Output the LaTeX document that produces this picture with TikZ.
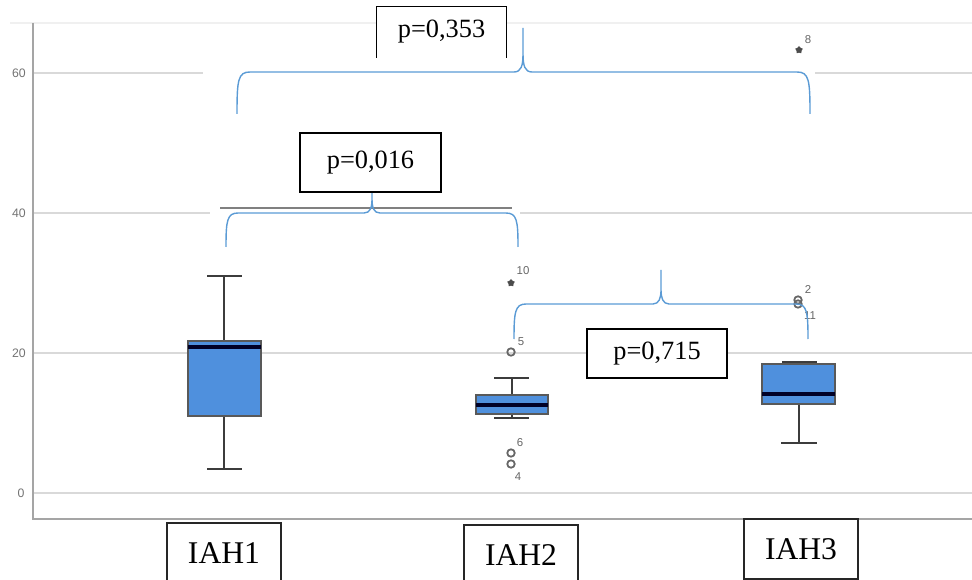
\documentclass[tikz,border=0pt]{standalone}
\usepackage{fontspec}
\setmainfont{Liberation Serif}
\newfontfamily\axisfont{Liberation Sans}
\usetikzlibrary{shapes.geometric}
\definecolor{boxblue}{RGB}{79,144,221}
\definecolor{braceblue}{RGB}{91,155,213}
\definecolor{gridgray}{RGB}{217,217,217}
\definecolor{axisgray}{RGB}{165,165,165}
\definecolor{whiskgray}{RGB}{60,60,60}

\begin{document}
\begin{tikzpicture}
  [x=0.02cm,y=-0.02cm,
   gridL/.style={gridgray,line width=1.1pt},
   tickT/.style={font=\axisfont\fontsize{7}{8}\selectfont,text=black!55},
   obsT/.style={font=\axisfont\fontsize{6.5}{7}\selectfont,text=black!60},
   boxB/.style={fill=boxblue,draw=black!65,line width=1pt},
   medL/.style={black!85!blue,line width=1.8pt},
   whiskL/.style={whiskgray,line width=1.4pt},
   outC/.style={circle,draw=black!60,line width=1pt,inner sep=0pt,minimum size=0.15cm},
   extS/.style={star,star points=5,fill=black!70,inner sep=0pt,minimum size=0.16cm},
   braceL/.style={braceblue,line width=0.8pt},
   pvalN/.style={draw=black,line width=0.8pt,fill=white,font=\fontsize{15}{18}\selectfont},
   groupN/.style={draw=black!85,line width=0.8pt,fill=white,minimum width=2.28cm,minimum height=1.2cm,font=\fontsize{18}{21}\selectfont}]

  \clip (0,0) rectangle (972,580);

  % frame and grid
  \draw[black!6,line width=0.6pt] (10,23) -- (972,23);
  \draw[gridL] (33,73) -- (203,73);
  \draw[gridL] (815,73) -- (972,73);
  \draw[gridL] (33,213) -- (210,213);
  \draw[gridL] (520,213) -- (972,213);
  \draw[gridL] (33,353) -- (972,353);
  \draw[gridL] (33,493) -- (972,493);
  \draw[axisgray,line width=1.6pt] (33,23) -- (33,519) -- (972,519);
  \draw[black!50,line width=0.6pt] (220,208) -- (512,208);

  \node[tickT] (t60) at (19,73)  {60};
  \node[tickT] (t40) at (19,213) {40};
  \node[tickT] (t20) at (19,353) {20};
  \node[tickT] (t0)  at (21,493) {0};

  % IAH1
  \draw[whiskL] (224,276) -- (224,469);
  \draw[whiskL] (207,276) -- (242,276);
  \draw[whiskL] (207,469) -- (242,469);
  \draw[boxB] (188,341) rectangle (261,416);
  \draw[medL] (188,347) -- (261,347);

  % IAH2
  \draw[whiskL] (512,378) -- (512,418);
  \draw[whiskL] (494,378) -- (529,378);
  \draw[whiskL] (494,418) -- (529,418);
  \draw[boxB] (476,395) rectangle (548,414);
  \draw[medL] (476,405) -- (548,405);
  \node[extS] (x10) at (511,283) {};
  \node[obsT] (l10) at (523,271) {10};
  \node[outC] (o5) at (511,352) {};
  \node[obsT] (l5) at (521,342) {5};
  \node[outC] (o6) at (511,453) {};
  \node[obsT] (l6) at (520,443) {6};
  \node[outC] (o4) at (511,464) {};
  \node[obsT] (l4) at (518,477) {4};

  % IAH3
  \draw[whiskL] (799,362) -- (799,443);
  \draw[whiskL] (782,362) -- (817,362);
  \draw[whiskL] (781,443) -- (817,443);
  \draw[boxB] (762,364) rectangle (835,404);
  \draw[medL] (762,394) -- (835,394);
  \node[outC] (o2) at (798,300) {};
  \node[outC] (o11) at (798,304) {};
  \node[obsT] (l2) at (808,290) {2};
  \node[obsT] (l11) at (810,316) {11};
  \node[extS] (x8) at (799,50) {};
  \node[obsT] (l8) at (808,40) {8};

  % braces
  \draw[braceL] (237,114) .. controls (237,80) and (238,72) .. (250,72) -- (514,72)
    .. controls (521,72) and (523,66) .. (523,54) -- (523,28)
    (523,54) .. controls (523,66) and (525,72) .. (532,72) -- (797,72)
    .. controls (809,72) and (810,80) .. (810,114);
  \draw[braceL] (226,247) .. controls (226,221) and (227,213) .. (238,213) -- (364,213)
    .. controls (370,213) and (372,208) .. (372,199) -- (372,179)
    (372,199) .. controls (372,208) and (374,213) .. (380,213) -- (506,213)
    .. controls (517,213) and (518,221) .. (518,247);
  \draw[braceL] (514,339) .. controls (514,312) and (515,304) .. (526,304) -- (653,304)
    .. controls (659,304) and (661,298) .. (661,290) -- (661,270)
    (661,290) .. controls (661,298) and (663,304) .. (669,304) -- (796,304)
    .. controls (807,304) and (808,312) .. (808,339);

  % p-value labels
  \node[pvalN,draw=none,minimum width=2.58cm,minimum height=1cm] (p353) at (441.5,32) {p=0,353};
  \draw[black,line width=0.8pt] (p353.south west) |- (p353.north east) -- (p353.south east);
  \node[pvalN,minimum width=2.82cm,minimum height=1.18cm] (p016) at (370.5,162.5) {p=0,016};
  \node[pvalN,minimum width=2.8cm,minimum height=0.98cm] (p715) at (657,353.5) {p=0,715};

  % group labels
  \node[groupN] (g1) at (224,553) {IAH1};
  \node[groupN] (g2) at (521,555) {IAH2};
  \node[groupN] (g3) at (801,549) {IAH3};

\end{tikzpicture}
\end{document}
